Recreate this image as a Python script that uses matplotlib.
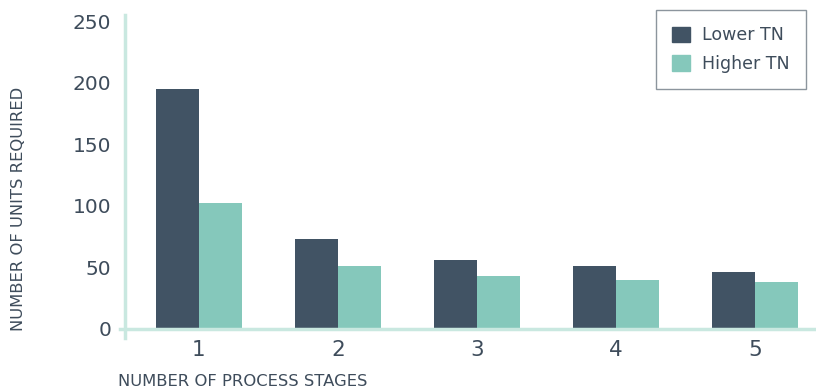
import numpy as np
import matplotlib
matplotlib.use('Agg')
import matplotlib.pyplot as plt
from matplotlib.patches import Patch

# donnees
stages = [1, 2, 3, 4, 5]
lower_tn = [195, 73, 56, 51, 46]
higher_tn = [102, 51, 43, 40, 38]
y_ticks = [0, 50, 100, 150, 200, 250]

dark = '#415364'
teal = '#85c8bb'
line_col = '#c9e8e0'
txt = '#3e4c5b'

plt.rcParams['font.family'] = ['DejaVu Sans']

fig = plt.figure(figsize=(8.16, 3.92), dpi=100)
ax = fig.add_axes([120 / 816, (392 - 338) / 392, 695 / 816, 323 / 392])

x = np.array(stages)
w = 0.31
ax.bar(x - w / 2, lower_tn, w, color=dark, label='Lower TN', zorder=2)
ax.bar(x + w / 2, higher_tn, w, color=teal, label='Higher TN', zorder=2)

ax.set_xlim(0.432, 5.43)
ax.set_ylim(-7.5, 255)

for s in ['top', 'right']:
    ax.spines[s].set_visible(False)
ax.spines['bottom'].set_position(('data', 0))
ax.spines['left'].set_position(('data', 0.468))
ax.spines['bottom'].set_color(line_col)
ax.spines['left'].set_color(line_col)
ax.spines['bottom'].set_linewidth(2.5)
ax.spines['left'].set_linewidth(2.5)
ax.spines['bottom'].set_zorder(3)

ax.set_yticks(y_ticks)
ax.set_xticks(stages)
ax.tick_params(axis='y', length=0, pad=10, labelsize=14.5, labelcolor=txt)
ax.tick_params(axis='x', length=0, pad=8, labelsize=15.5, labelcolor=txt)

fig.text(19 / 816, 1 - 209 / 392, 'NUMBER OF UNITS REQUIRED', rotation=90,
         ha='center', va='center', fontsize=11.8, color=txt)
fig.text(118 / 816, 1 - 382 / 392, 'NUMBER OF PROCESS STAGES',
         ha='left', va='center', fontsize=11.8, color=txt)

handles = [Patch(color=dark, label='Lower TN'), Patch(color=teal, label='Higher TN')]
leg = ax.legend(handles=handles, loc='upper right', bbox_to_anchor=(806 / 816, 1 - 10 / 392),
                bbox_transform=fig.transFigure, fontsize=12.5, frameon=True, fancybox=False,
                borderpad=0.95, handlelength=1.0, handleheight=1.0, handletextpad=0.7,
                labelspacing=0.6, borderaxespad=0)
leg.get_frame().set_edgecolor('#6f7b85')
leg.get_frame().set_linewidth(1.0)
for t in leg.get_texts():
    t.set_color(txt)

fig.savefig('out.png', dpi=100)
